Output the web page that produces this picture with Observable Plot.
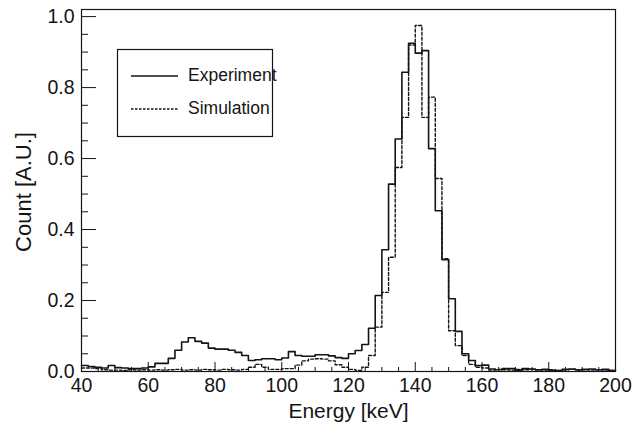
<!DOCTYPE html>
<html><head><meta charset="utf-8">
<script src="https://cdn.jsdelivr.net/npm/d3@7"></script>
<script src="https://cdn.jsdelivr.net/npm/@observablehq/plot@0.6"></script>
<style>
body{margin:0;background:#fff}
#chart{width:641px;height:430px}
</style>
</head><body><div id="chart"></div>
<script>
// Histogram bins: 2 keV wide, lower edges from 40 to 198 keV
const binLow = d3.range(40, 200, 2);
const binEnd = 200;

const experiment = [
  0.017,0.014,0.012,0.010,0.017,0.011,0.010,0.008,0.008,0.010,
  0.013,0.023,0.023,0.037,0.060,0.083,0.095,0.085,0.080,0.066,
  0.063,0.063,0.060,0.054,0.045,0.031,0.033,0.036,0.036,0.033,
  0.038,0.056,0.045,0.043,0.043,0.047,0.047,0.044,0.039,0.037,
  0.050,0.059,0.076,0.122,0.214,0.343,0.528,0.655,0.843,0.925,
  0.897,0.904,0.628,0.453,0.315,0.205,0.113,0.050,0.031,0.017,
  0.018,0.007,0.005,0.008,0.008,0.004,0.008,0.007,0.005,0.006,
  0.003,0.003,0.006,0.007,0.005,0.006,0.007,0.005,0.006,0.003
];
const simulation = [
  0.010,0.010,0.008,0.005,0.004,0.004,0.003,0.005,0.004,0.005,
  0.004,0.005,0.004,0.005,0.006,0.004,0.005,0.004,0.006,0.005,
  0.004,0.006,0.005,0.004,0.006,0.012,0.020,0.012,0.006,0.006,
  0.008,0.008,0.018,0.030,0.035,0.036,0.035,0.030,0.019,0.012,
  0.006,0.003,0.012,0.045,0.125,0.223,0.322,0.575,0.716,0.920,
  0.975,0.716,0.773,0.544,0.318,0.115,0.073,0.045,0.020,0.012,
  0.010,0.004,0.006,0.005,0.004,0.006,0.005,0.006,0.004,0.004,
  0.005,0.003,0.005,0.006,0.004,0.005,0.004,0.005,0.004,0.003
];

const xMajor = [40, 60, 80, 100, 120, 140, 160, 180, 200];
const xMinor = [45,50,55,65,70,75,85,90,95,105,110,115,125,130,135,145,150,155,165,170,175,185,190,195];
const yMajor = [0, 0.2, 0.4, 0.6, 0.8, 1.0];
const yMinor = [0.05,0.1,0.15,0.25,0.3,0.35,0.45,0.5,0.55,0.65,0.7,0.75,0.85,0.9,0.95];
const xTitle = "Energy [keV]";
const yTitle = "Count [A.U.]";
const seriesNames = ["Experiment", "Simulation"];

function steps(vals) {
  const pts = binLow.map((x, i) => ({x, y: vals[i]}));
  pts.push({x: binEnd, y: vals[vals.length - 1]});
  return pts;
}

const ink = "#141414";
const font = "'Liberation Sans', Arial, Helvetica, sans-serif";

const svg = Plot.plot({
  width: 641, height: 430,
  marginLeft: 81, marginRight: 26, marginTop: 9, marginBottom: 59,
  style: {fontFamily: font, color: ink, background: "#fff"},
  x: {domain: [40, 200], axis: null},
  y: {domain: [0, 1.02], axis: null},
  marks: [
    Plot.line(steps(simulation), {x: "x", y: "y", curve: "step-after", stroke: ink, strokeWidth: 1.4, strokeDasharray: "3,2"}),
    Plot.line(steps(experiment), {x: "x", y: "y", curve: "step-after", stroke: ink, strokeWidth: 1.6}),
    Plot.axisX(xMajor, {tickSize: -9, tickFormat: () => "", label: null, stroke: ink}),
    Plot.axisX(xMinor, {tickSize: -4, tickFormat: () => "", label: null, stroke: ink}),
    Plot.axisY(yMajor, {tickSize: -15, tickFormat: () => "", label: null, stroke: ink}),
    Plot.axisY(yMinor, {tickSize: -7, tickFormat: () => "", label: null, stroke: ink}),
    Plot.text(xMajor, {x: d => d, frameAnchor: "bottom", dy: 14, lineAnchor: "middle",
      text: d => String(d), fontSize: 19.5, fill: ink, fontFamily: font}),
    Plot.text(yMajor, {y: d => d, frameAnchor: "left", dx: -7, textAnchor: "end",
      text: d => d.toFixed(1), fontSize: 19.5, fill: ink, fontFamily: font}),
    Plot.text([xTitle], {frameAnchor: "bottom", dy: 40, lineAnchor: "middle",
      fontSize: 21, fill: ink, fontFamily: font}),
    Plot.frame({stroke: ink, strokeWidth: 1.2})
  ]
});
document.getElementById("chart").appendChild(svg);

const s = d3.select(svg);
s.append("text").attr("transform", "translate(25,192) rotate(-90)").attr("text-anchor", "middle")
  .attr("dominant-baseline", "middle").style("font-size", "22px").attr("font-family", font)
  .attr("fill", ink).text(yTitle);

// legend
const lg = s.append("g");
lg.append("rect").attr("x", 117.5).attr("y", 49.5).attr("width", 155).attr("height", 87)
  .attr("fill", "#fff").attr("stroke", ink).attr("stroke-width", 1.2);
[76, 109].forEach((yy, i) => {
  lg.append("line").attr("x1", 131).attr("x2", 178).attr("y1", yy).attr("y2", yy)
    .attr("stroke", ink).attr("stroke-width", 1.3).attr("stroke-dasharray", i ? "2.5,1.5" : null);
  lg.append("text").attr("x", 188).attr("y", yy).attr("dominant-baseline", "middle")
    .attr("text-anchor", "start")
    .style("font-size", "17.5px").attr("font-family", font).attr("fill", ink).text(seriesNames[i]);
});
</script>
</body></html>
